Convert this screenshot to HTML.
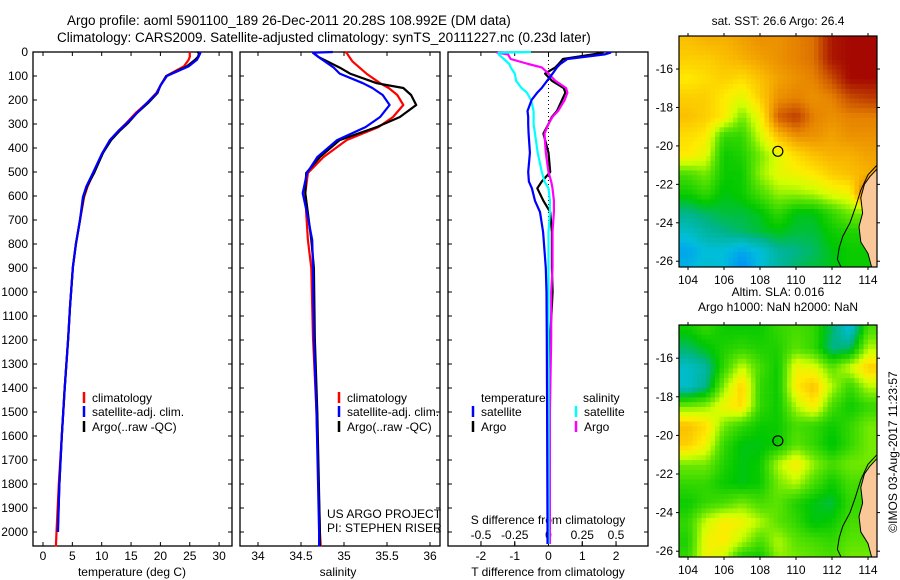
<!DOCTYPE html>
<html><head><meta charset="utf-8"><style>
body{margin:0;background:#fff}
svg{display:block;font-family:"Liberation Sans",sans-serif}
</style></head><body>
<svg id="root" width="900" height="580" viewBox="0 0 900 580">
<defs>
<clipPath id="clip-m1"><rect x="679" y="36" width="198" height="231"/></clipPath>
<clipPath id="clip-m2"><rect x="679" y="325" width="198" height="232"/></clipPath>
</defs>
<g id="g-text">
<text x="67" y="25" font-size="13.5">Argo profile: aoml 5901100_189 26-Dec-2011 20.28S 108.992E (DM data)</text>
<text x="57" y="42" font-size="13.5">Climatology: CARS2009. Satellite-adjusted climatology: synTS_20111227.nc (0.23d later)</text>
</g>
<g id="p1"></g>
<g id="p2"></g>
<g id="p3"></g>
<g id="m1"></g>
<g id="m2"></g>
</svg>
<script>
// ---- profile data ----
const tDepth=[0,5,20,33,60,100,140,171,210,254,296,330,367,421,504,560,604,700,800,896,1063,1192,1400,1600,1800,2000];
const tArgo=[26.3,26.6,26.4,25.9,24.5,21.0,20.0,19.5,18.0,16.0,14.5,13.0,11.6,10.2,8.7,7.5,6.9,6.3,5.6,5.1,4.6,4.3,3.7,3.2,2.8,2.5];
const tSat=[26.6,26.8,26.5,26.2,24.8,21.1,20.0,19.4,17.8,16.0,14.3,12.8,11.4,10.1,8.5,7.4,6.8,6.3,5.6,5.1,4.6,4.3,3.7,3.2,2.8,2.55];
const tClimDepth=[0,5,20,33,60,100,140,171,210,254,296,330,367,421,504,560,604,700,800,896,1063,1192,1400,1600,1800,2000,2060];
const tClim=[24.9,25.0,25.0,24.8,24.0,21.0,20.0,19.3,17.8,15.8,14.2,12.8,11.4,10.2,8.6,7.6,7.0,6.3,5.6,5.1,4.6,4.3,3.7,3.2,2.7,2.3,2.2];
const sDepth=[0,3,20,40,65,90,130,150,179,221,271,313,367,438,504,588,671,783,900,1192,1500,2000,2060];
const sArgo=[34.64,34.64,34.70,34.81,34.95,35.07,35.38,35.69,35.78,35.84,35.65,35.38,34.95,34.72,34.56,34.55,34.58,34.62,34.65,34.66,34.69,34.72,34.72];
const sSat=[34.87,34.64,34.70,34.78,34.88,34.95,35.22,35.33,35.45,35.53,35.42,35.25,34.92,34.69,34.57,34.52,34.57,34.63,34.64,34.65,34.68,34.71,34.71];
const sClim=[35.01,35.03,35.06,35.10,35.18,35.26,35.42,35.52,35.62,35.69,35.57,35.40,35.03,34.76,34.58,34.55,34.56,34.58,34.62,34.64,34.68,34.72,34.73];
const dDepth=[0,3,10,29,50,64,90,120,150,169,200,246,270,300,340,420,500,540,568,620,667,750,900,1000,1192,1500,2000,2050];
const tdSat=[1.83,1.83,1.66,0.56,0.35,0.25,0.12,-0.04,-0.2,-0.33,-0.5,-0.62,-0.6,-0.6,-0.59,-0.55,-0.6,-0.58,-0.49,-0.4,-0.25,-0.16,-0.08,-0.06,-0.05,-0.04,-0.03,-0.03];
const tdArgo=[1.6,1.6,1.3,0.43,0.3,0.2,-0.1,0.1,0.45,0.5,0.4,0.25,0.1,0,-0.15,0,0.05,-0.2,-0.33,-0.15,0.05,0.1,0.1,0.12,0.05,0.02,0.02,0.02];
const sdSat=[-0.13,-0.37,-0.37,-0.33,-0.29,-0.28,-0.25,-0.24,-0.2,-0.16,-0.13,-0.11,-0.11,-0.11,-0.1,-0.08,-0.05,-0.03,0,0.01,0.01,0,0,0,0,0,0,0];
const sdArgo=[-0.38,-0.38,-0.3,-0.28,-0.15,-0.05,0,0.05,0.13,0.14,0.12,0.07,0.03,0,-0.03,-0.02,0,0.02,0.03,0.04,0.04,0.03,0.03,0.02,0.02,0.01,0.01,0.01];
const depthTicks=[0,100,200,300,400,500,600,700,800,900,1000,1100,1200,1300,1400,1500,1600,1700,1800,1900,2000];
const tTicks=[0,5,10,15,20,25,30];
const sTicks=[34,34.5,35,35.5,36];
const tdTicks=[-2,-1,0,1,2];
const sdTicks=[-0.5,-0.25,0,0.25,0.5];
// ---- map data (rows lat -14.5..-26.3, cols lon 104..114) ----
const mapLats=[-14.5,-15.5,-16.5,-17.5,-18.5,-19.5,-20.5,-21.5,-22.5,-23.5,-24.5,-25.5,-26.3];
const mapLons=[104,105,106,107,108,109,110,111,112,113,114];
const sstGrid=[
[.74,.76,.76,.78,.80,.80,.82,.84,.95,.97,.97],
[.72,.72,.74,.76,.78,.80,.82,.84,.95,.97,.97],
[.68,.70,.72,.70,.74,.78,.80,.82,.88,.97,.97],
[.72,.72,.68,.64,.72,.80,.82,.80,.82,.88,.90],
[.74,.72,.68,.56,.66,.86,.90,.82,.80,.82,.82],
[.70,.68,.50,.50,.62,.74,.80,.80,.78,.80,.80],
[.68,.64,.46,.48,.56,.64,.70,.74,.76,.76,.78],
[.52,.56,.46,.46,.58,.64,.66,.68,.72,.74,.76],
[.46,.50,.44,.46,.52,.58,.58,.60,.64,.66,.90],
[.38,.40,.42,.42,.44,.50,.44,.44,.50,.56,.56],
[.32,.36,.38,.40,.42,.44,.42,.42,.46,.48,.48],
[.26,.30,.30,.26,.30,.36,.38,.40,.44,.46,.46],
[.28,.32,.30,.22,.30,.36,.40,.42,.44,.46,.46]];
const slaGrid=[
[.46,.50,.46,.46,.46,.50,.52,.50,.40,.30,.52],
[.40,.44,.48,.50,.48,.48,.54,.50,.38,.40,.60],
[.32,.36,.50,.62,.52,.46,.66,.64,.54,.62,.72],
[.32,.38,.58,.72,.50,.46,.68,.74,.60,.50,.60],
[.56,.58,.66,.70,.50,.46,.60,.68,.52,.46,.50],
[.74,.70,.56,.50,.46,.46,.52,.50,.46,.50,.56],
[.72,.66,.50,.44,.44,.46,.54,.50,.44,.50,.56],
[.56,.56,.48,.44,.46,.60,.68,.58,.52,.56,.56],
[.50,.50,.46,.44,.46,.56,.60,.52,.46,.52,.52],
[.46,.50,.52,.56,.52,.54,.48,.44,.42,.50,.50],
[.50,.62,.68,.66,.60,.54,.50,.44,.46,.52,.52],
[.48,.66,.68,.60,.52,.60,.54,.52,.50,.54,.54],
[.50,.66,.62,.48,.46,.58,.56,.54,.52,.56,.56]];
const landLon=[114.5,114.1,113.8,113.6,113.7,113.5,113.6,114.0,114.2,114.5];
const landLat=[-21.2,-21.6,-22.0,-22.7,-23.5,-24.2,-25.0,-25.6,-26.3,-26.3];
const contourLon=[114.5,114.0,113.6,113.3,113.0,112.6,112.4,112.3,112.5];
const contourLat=[-21.0,-21.5,-22.3,-23.2,-24.0,-24.7,-25.3,-25.9,-26.3];
const argoLon=108.992, argoLat=-20.28;

const NS='http://www.w3.org/2000/svg';
function mk(parent,tag,attrs,txt){const e=document.createElementNS(NS,tag);for(const k in attrs)e.setAttribute(k,attrs[k]);if(txt!==undefined)e.textContent=txt;parent.appendChild(e);return e;}
const Y0=52,Ypx=0.24;
const yD=d=>Y0+d*Ypx;
const BOT=546;

function panel(g,x0,x1,xs,ticks,fmt,name){
  const fr=mk(g,'rect',{x:x0,y:Y0,width:x1-x0,height:BOT-Y0,fill:'none',stroke:'#000','stroke-width':1.3});
  
  
  depthTicks.forEach(d=>{
    const y=yD(d);
    mk(g,'line',{x1:x0,y1:y,x2:x0+4,y2:y,stroke:'#000'});
    mk(g,'line',{x1:x1-4,y1:y,x2:x1,y2:y,stroke:'#000'});
  });
  ticks.forEach(v=>{
    const x=xs(v);
    mk(g,'line',{x1:x,y1:Y0,x2:x,y2:Y0+4,stroke:'#000'});
    mk(g,'line',{x1:x,y1:BOT,x2:x,y2:BOT-4,stroke:'#000'});
    const t=mk(g,'text',{x:x,y:560,'font-size':12,'text-anchor':'middle'},fmt(v));
    
    
  });
}
function line(g,xs,vals,depths,color,name,w){
  const pts=vals.map((v,i)=>xs(v).toFixed(1)+','+yD(depths[i]).toFixed(1)).join(' ');
  const p=mk(g,'polyline',{points:pts,fill:'none',stroke:color,'stroke-width':w||2.2,'stroke-linejoin':'round'});
  
  
}
function legend(g,x,y,color,label,name){
  mk(g,'line',{x1:x,y1:y-10,x2:x,y2:y+1,stroke:color,'stroke-width':2.5});
  const t=mk(g,'text',{x:x+8,y:y,'font-size':12},label);
  
  
}

// Panel 1
const p1=document.getElementById('p1');
const xT=v=>43+v*5.87;
panel(p1,33,232,xT,tTicks,v=>String(v),'temperature');
depthTicks.forEach(d=>{const t=mk(p1,'text',{x:28,y:yD(d)+4,'font-size':12,'text-anchor':'end'},String(d));

});
line(p1,xT,tClim,tClimDepth,'#f00','temp-climatology-line');
line(p1,xT,tArgo,tDepth,'#000','temp-argo-line');
line(p1,xT,tSat,tDepth,'#00f','temp-satellite-line');
const t1=mk(p1,'text',{x:132,y:576,'font-size':12,'text-anchor':'middle'},'temperature (deg C)');


legend(p1,84,402,'#f00','climatology','legend-climatology');
legend(p1,84,416,'#00f','satellite-adj. clim.','legend-satellite');
legend(p1,84,431,'#000','Argo(..raw -QC)','legend-argo');

// Panel 2
const p2=document.getElementById('p2');
const xS=v=>258+(v-34)*86;
panel(p2,240,440,xS,sTicks,v=>String(v),'salinity');
line(p2,xS,sClim,sDepth,'#f00','sal-climatology-line');
line(p2,xS,sArgo,sDepth,'#000','sal-argo-line');
line(p2,xS,sSat,sDepth,'#00f','sal-satellite-line');
const t2=mk(p2,'text',{x:338,y:576,'font-size':12,'text-anchor':'middle'},'salinity');


legend(p2,339,402,'#f00','climatology','legend-climatology-2');
legend(p2,339,416,'#00f','satellite-adj. clim.','legend-satellite-2');
legend(p2,339,431,'#000','Argo(..raw -QC)','legend-argo-2');
const u1=mk(p2,'text',{x:327,y:518,'font-size':12},'US ARGO PROJECT');


const u2=mk(p2,'text',{x:327,y:532,'font-size':12},'PI: STEPHEN RISER');



// Panel 3
const p3=document.getElementById('p3');
const xTD=v=>548.5+v*33.8;
const xSD=v=>548.5+v*135;
panel(p3,448,648,xTD,tdTicks,v=>String(v),'t-diff');
mk(p3,'line',{x1:548.5,y1:Y0,x2:548.5,y2:BOT,stroke:'#000','stroke-dasharray':'1,3'});
sdTicks.forEach(v=>{const x=xSD(v);mk(p3,'line',{x1:x,y1:BOT,x2:x,y2:BOT-5,stroke:'#000'});
const t=mk(p3,'text',{x:x,y:539,'font-size':12,'text-anchor':'middle'},String(v));

});
const sdt=mk(p3,'text',{x:548,y:524,'font-size':12,'text-anchor':'middle'},'S difference from climatology');


const tdt=mk(p3,'text',{x:548,y:576,'font-size':12,'text-anchor':'middle'},'T difference from climatology');


line(p3,xTD,tdArgo,dDepth,'#000','tdiff-argo-line');
line(p3,xSD,sdArgo,dDepth,'#f0f','sdiff-argo-line');
line(p3,xSD,sdSat,dDepth,'#0ff','sdiff-satellite-line');
line(p3,xTD,tdSat,dDepth,'#00f','tdiff-satellite-line');
const lt=mk(p3,'text',{x:481,y:402,'font-size':12},'temperature');


const ls=mk(p3,'text',{x:583,y:402,'font-size':12},'salinity');


legend(p3,473,416,'#00f','satellite','legend-t-satellite');
legend(p3,473,431,'#000','Argo','legend-t-argo');
legend(p3,576,416,'#0ff','satellite','legend-s-satellite');
legend(p3,576,431,'#f0f','Argo','legend-s-argo');

// ---- maps ----
const cstops=[[0.2,[0,130,255]],[0.3,[0,190,220]],[0.38,[0,180,140]],[0.45,[0,200,0]],[0.55,[100,230,0]],[0.62,[210,255,0]],[0.68,[255,235,0]],[0.75,[250,185,0]],[0.82,[230,130,0]],[0.9,[190,60,0]],[0.98,[160,0,0]]];
function cmap(v){if(v<=cstops[0][0])return cstops[0][1];for(let i=1;i<cstops.length;i++){if(v<=cstops[i][0]){const a=cstops[i-1],b=cstops[i],f=(v-a[0])/(b[0]-a[0]);return a[1].map((c,k)=>Math.round(c+(b[1][k]-c)*f));}}return cstops[cstops.length-1][1];}
function interp(arr,x){
  const inc=arr[1]>arr[0];
  for(let i=0;i<arr.length-1;i++){const a=arr[i],b=arr[i+1];if(inc?(x>=a&&x<=b):(x<=a&&x>=b)){return [i,(x-a)/(b-a)];}}
  if(inc?x<arr[0]:x>arr[0])return[0,0];return[arr.length-2,1];
}
function drawMap(g,top,bottom,grid,name,clipId,title1,title2){
  const L=679,R=877,lonMin=103.5,lonMax=114.5;
  const latTop=-16+(69-36)/19.2;
  const lx=lon=>L+(lon-lonMin)*18;
  const ly=lat=>top+(latTop-lat)*((bottom-top)/(latTop+26.3));
  const cs=0.25;
  const cells=mk(g,'g',{'clip-path':'url(#'+clipId+')'});
  
  
  for(let lat=latTop;lat>-26.3;lat-=cs){
    for(let lon=lonMin;lon<lonMax;lon+=cs){
      const [i,fy]=interp(mapLats,lat-cs/2);
      const [j,fx]=interp(mapLons,lon+cs/2);
      const v=(grid[i][j]*(1-fx)+grid[i][j+1]*fx)*(1-fy)+(grid[i+1][j]*(1-fx)+grid[i+1][j+1]*fx)*fy;
      const c=cmap(v);
      mk(cells,'rect',{x:lx(lon).toFixed(1),y:ly(lat).toFixed(1),width:4.8,height:5.2,fill:`rgb(${c[0]},${c[1]},${c[2]})`});
    }
  }
  const land=mk(cells,'polygon',{points:landLon.map((v,i)=>lx(v)+','+ly(landLat[i])).join(' '),fill:'#fac898',stroke:'#000','stroke-width':1});
  
  
  const ct=mk(cells,'polyline',{points:contourLon.map((v,i)=>lx(v)+','+ly(contourLat[i])).join(' '),fill:'none',stroke:'#000','stroke-width':1});
  
  
  const mk1=mk(g,'circle',{cx:lx(argoLon),cy:ly(argoLat),r:5,fill:'none',stroke:'#000','stroke-width':1.2});
  
  
  mk(g,'rect',{x:L,y:top,width:R-L,height:bottom-top,fill:'none',stroke:'#000','stroke-width':1.2});
  [104,106,108,110,112,114].forEach(v=>{const x=lx(v);mk(g,'line',{x1:x,y1:top,x2:x,y2:top-3,stroke:'#000'});mk(g,'line',{x1:x,y1:bottom,x2:x,y2:bottom+3,stroke:'#000'});
    const t=mk(g,'text',{x:x,y:bottom+17,'font-size':12,'text-anchor':'middle'},String(v));
    
    });
  [-16,-18,-20,-22,-24,-26].forEach(v=>{const y=ly(v);mk(g,'line',{x1:L,y1:y,x2:L-3,y2:y,stroke:'#000'});mk(g,'line',{x1:R,y1:y,x2:R+3,y2:y,stroke:'#000'});
    const t=mk(g,'text',{x:673,y:y+4,'font-size':12,'text-anchor':'end'},String(v));
    
    });
  if(title1){const t=mk(g,'text',{x:778,y:title2?top-29:top-11,'font-size':12,'text-anchor':'middle'},title1);
    
    }
  if(title2){const t=mk(g,'text',{x:778,y:top-14,'font-size':12,'text-anchor':'middle'},title2);
    
    }
}
drawMap(document.getElementById('m1'),36,267,sstGrid,'sst-map','clip-m1','sat. SST: 26.6 Argo: 26.4');
drawMap(document.getElementById('m2'),325,557,slaGrid,'sla-map','clip-m2','Altim. SLA: 0.016','Argo h1000: NaN h2000: NaN');
const cp=mk(document.getElementById('root'),'text',{x:0,y:0,'font-size':12,'text-anchor':'middle',transform:'translate(897,452) rotate(-90)'},'©IMOS 03-Aug-2017 11:23:57');


</script>
</body></html>
